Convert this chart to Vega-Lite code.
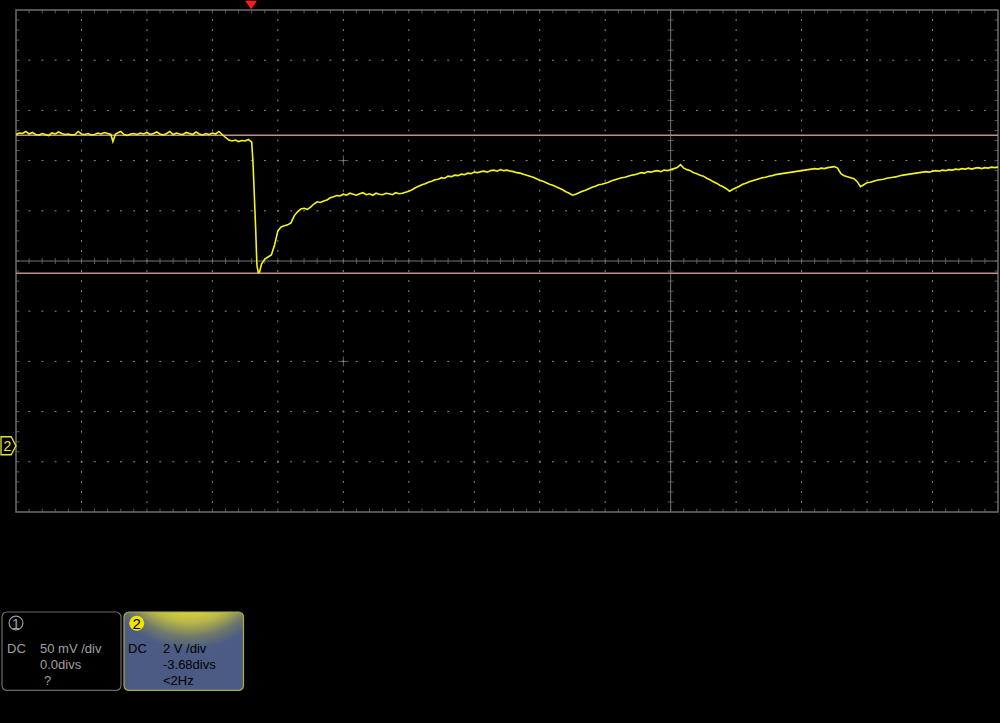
{
  "$schema": "https://vega.github.io/schema/vega-lite/v6.json",
  "width": 982,
  "height": 502,
  "autosize": {"type": "none"},
  "padding": {"left": 16, "top": 10, "right": 2, "bottom": 211},
  "background": "#000000",
  "config": {"view": {"stroke": null}},
  "datasets": {
    "trace": [
      {"t":0,"v":12.40},{"t":0.05,"v":12.46},{"t":0.1,"v":12.44},{"t":0.15,"v":12.52},{"t":0.2,"v":12.42},{"t":0.25,"v":12.48},{"t":0.3,"v":12.40},{"t":0.35,"v":12.38},{"t":0.4,"v":12.44},{"t":0.45,"v":12.40},{"t":0.5,"v":12.36},{"t":0.55,"v":12.46},{"t":0.6,"v":12.42},{"t":0.65,"v":12.50},{"t":0.7,"v":12.44},{"t":0.75,"v":12.40},{"t":0.8,"v":12.42},{"t":0.85,"v":12.38},{"t":0.9,"v":12.40},{"t":0.95,"v":12.52},{"t":1,"v":12.42},{"t":1.05,"v":12.40},{"t":1.1,"v":12.44},{"t":1.15,"v":12.38},{"t":1.2,"v":12.40},{"t":1.25,"v":12.46},{"t":1.3,"v":12.42},{"t":1.35,"v":12.48},{"t":1.4,"v":12.44},{"t":1.45,"v":12.40},{"t":1.48,"v":12.12},{"t":1.52,"v":12.42},{"t":1.55,"v":12.46},{"t":1.6,"v":12.52},{"t":1.65,"v":12.40},{"t":1.7,"v":12.36},{"t":1.75,"v":12.42},{"t":1.8,"v":12.44},{"t":1.85,"v":12.40},{"t":1.9,"v":12.46},{"t":1.95,"v":12.42},{"t":2,"v":12.48},{"t":2.05,"v":12.40},{"t":2.1,"v":12.44},{"t":2.15,"v":12.50},{"t":2.2,"v":12.42},{"t":2.25,"v":12.38},{"t":2.3,"v":12.44},{"t":2.35,"v":12.52},{"t":2.4,"v":12.40},{"t":2.45,"v":12.46},{"t":2.5,"v":12.42},{"t":2.55,"v":12.40},{"t":2.6,"v":12.48},{"t":2.65,"v":12.44},{"t":2.7,"v":12.40},{"t":2.75,"v":12.50},{"t":2.8,"v":12.42},{"t":2.85,"v":12.38},{"t":2.9,"v":12.44},{"t":2.95,"v":12.40},{"t":3,"v":12.46},{"t":3.05,"v":12.42},{"t":3.1,"v":12.52},{"t":3.15,"v":12.40},{"t":3.2,"v":12.28},{"t":3.25,"v":12.18},{"t":3.3,"v":12.14},{"t":3.35,"v":12.18},{"t":3.4,"v":12.12},{"t":3.45,"v":12.16},{"t":3.5,"v":12.14},{"t":3.55,"v":12.20},{"t":3.58,"v":12.14},{"t":3.6,"v":12.10},{"t":3.62,"v":11.3},{"t":3.64,"v":10.0},{"t":3.66,"v":8.7},{"t":3.68,"v":7.2},{"t":3.7,"v":6.9},{"t":3.72,"v":6.92},
      {"t":3.75,"v":7.24},{"t":3.8,"v":7.44},{"t":3.85,"v":7.52},{"t":3.9,"v":7.60},{"t":3.95,"v":8.00},{"t":4,"v":8.56},{"t":4.05,"v":8.72},{"t":4.1,"v":8.76},{"t":4.15,"v":8.80},{"t":4.2,"v":8.88},{"t":4.25,"v":9.16},{"t":4.3,"v":9.32},{"t":4.35,"v":9.43},{"t":4.4,"v":9.46},{"t":4.45,"v":9.42},{"t":4.5,"v":9.51},{"t":4.55,"v":9.63},{"t":4.6,"v":9.72},{"t":4.65,"v":9.69},{"t":4.7,"v":9.75},{"t":4.75,"v":9.79},{"t":4.8,"v":9.88},{"t":4.85,"v":9.92},{"t":4.9,"v":9.97},{"t":4.95,"v":9.95},{"t":5,"v":10.02},
      {"t":5.05,"v":9.98},{"t":5.1,"v":10.06},{"t":5.15,"v":10.02},{"t":5.2,"v":9.98},{"t":5.25,"v":10.04},{"t":5.3,"v":10.08},{"t":5.35,"v":10.00},{"t":5.4,"v":10.04},{"t":5.45,"v":9.98},{"t":5.5,"v":10.06},{"t":5.55,"v":10.02},{"t":5.6,"v":10.00},{"t":5.65,"v":10.06},{"t":5.7,"v":10.04},{"t":5.75,"v":10.00},{"t":5.8,"v":10.08},{"t":5.85,"v":10.04},{"t":5.9,"v":10.06},{"t":5.95,"v":10.10},{"t":6,"v":10.14},
      {"t":6.05,"v":10.20},{"t":6.1,"v":10.28},{"t":6.15,"v":10.34},{"t":6.2,"v":10.40},{"t":6.25,"v":10.44},{"t":6.3,"v":10.50},{"t":6.35,"v":10.54},{"t":6.4,"v":10.60},{"t":6.45,"v":10.62},{"t":6.5,"v":10.68},{"t":6.55,"v":10.66},{"t":6.6,"v":10.74},{"t":6.65,"v":10.72},{"t":6.7,"v":10.78},{"t":6.75,"v":10.76},{"t":6.8,"v":10.82},{"t":6.85,"v":10.80},{"t":6.9,"v":10.86},{"t":6.95,"v":10.84},{"t":7,"v":10.90},{"t":7.05,"v":10.88},{"t":7.1,"v":10.92},{"t":7.15,"v":10.94},{"t":7.2,"v":10.90},{"t":7.25,"v":10.96},{"t":7.3,"v":10.98},{"t":7.35,"v":10.94},{"t":7.4,"v":11.00},{"t":7.45,"v":10.96},{"t":7.5,"v":10.98},{"t":7.55,"v":10.94},{"t":7.6,"v":10.92},{"t":7.65,"v":10.88},{"t":7.7,"v":10.86},{"t":7.75,"v":10.82},{"t":7.8,"v":10.78},{"t":7.85,"v":10.74},{"t":7.9,"v":10.70},{"t":7.95,"v":10.64},{"t":8,"v":10.58},{"t":8.05,"v":10.54},{"t":8.1,"v":10.48},{"t":8.15,"v":10.42},{"t":8.2,"v":10.38},{"t":8.25,"v":10.32},{"t":8.3,"v":10.26},{"t":8.35,"v":10.20},{"t":8.4,"v":10.12},{"t":8.45,"v":10.06},{"t":8.5,"v":9.98},{"t":8.55,"v":10.02},{"t":8.6,"v":10.08},{"t":8.65,"v":10.14},{"t":8.7,"v":10.18},{"t":8.75,"v":10.24},{"t":8.8,"v":10.30},{"t":8.85,"v":10.34},{"t":8.9,"v":10.40},{"t":8.95,"v":10.42},{"t":9,"v":10.46},{"t":9.05,"v":10.50},{"t":9.1,"v":10.56},{"t":9.15,"v":10.60},{"t":9.2,"v":10.64},{"t":9.25,"v":10.68},{"t":9.3,"v":10.70},{"t":9.35,"v":10.74},{"t":9.4,"v":10.78},{"t":9.45,"v":10.80},{"t":9.5,"v":10.84},{"t":9.55,"v":10.88},{"t":9.6,"v":10.86},{"t":9.65,"v":10.92},{"t":9.7,"v":10.90},{"t":9.75,"v":10.94},{"t":9.8,"v":10.96},{"t":9.85,"v":10.92},{"t":9.9,"v":10.98},{"t":9.95,"v":10.96},{"t":10,"v":11.00},{"t":10.05,"v":11.04},{"t":10.1,"v":11.08},{"t":10.15,"v":11.20},{"t":10.2,"v":11.06},{"t":10.25,"v":11.00},{"t":10.3,"v":10.96},{"t":10.35,"v":10.88},{"t":10.4,"v":10.84},{"t":10.45,"v":10.78},{"t":10.5,"v":10.74},{"t":10.55,"v":10.66},{"t":10.6,"v":10.60},{"t":10.65,"v":10.52},{"t":10.7,"v":10.46},{"t":10.75,"v":10.38},{"t":10.8,"v":10.32},{"t":10.85,"v":10.24},{"t":10.9,"v":10.14},{"t":10.95,"v":10.22},{"t":11,"v":10.28},{"t":11.05,"v":10.34},{"t":11.1,"v":10.42},{"t":11.15,"v":10.46},{"t":11.2,"v":10.52},{"t":11.25,"v":10.56},{"t":11.3,"v":10.60},{"t":11.35,"v":10.64},{"t":11.4,"v":10.68},{"t":11.45,"v":10.70},{"t":11.5,"v":10.74},{"t":11.55,"v":10.76},{"t":11.6,"v":10.80},{"t":11.65,"v":10.82},{"t":11.7,"v":10.84},{"t":11.75,"v":10.86},{"t":11.8,"v":10.88},{"t":11.85,"v":10.90},{"t":11.9,"v":10.92},{"t":11.95,"v":10.94},{"t":12,"v":10.96},{"t":12.05,"v":10.98},{"t":12.1,"v":11.00},{"t":12.15,"v":11.02},{"t":12.2,"v":11.04},{"t":12.25,"v":11.02},{"t":12.3,"v":11.06},{"t":12.35,"v":11.04},{"t":12.4,"v":11.08},{"t":12.45,"v":11.10},{"t":12.5,"v":11.12},{"t":12.55,"v":11.06},{"t":12.6,"v":10.84},{"t":12.65,"v":10.76},{"t":12.7,"v":10.72},{"t":12.75,"v":10.68},{"t":12.8,"v":10.64},{"t":12.85,"v":10.52},{"t":12.9,"v":10.32},{"t":12.95,"v":10.40},{"t":13,"v":10.48},{"t":13.05,"v":10.50},{"t":13.1,"v":10.54},{"t":13.15,"v":10.58},{"t":13.2,"v":10.60},{"t":13.25,"v":10.62},{"t":13.3,"v":10.66},{"t":13.35,"v":10.68},{"t":13.4,"v":10.70},{"t":13.45,"v":10.72},{"t":13.5,"v":10.76},{"t":13.55,"v":10.78},{"t":13.6,"v":10.80},{"t":13.65,"v":10.82},{"t":13.7,"v":10.84},{"t":13.75,"v":10.86},{"t":13.8,"v":10.88},{"t":13.85,"v":10.90},{"t":13.9,"v":10.92},{"t":13.95,"v":10.90},{"t":14,"v":10.94},{"t":14.05,"v":10.96},{"t":14.1,"v":10.94},{"t":14.15,"v":10.98},{"t":14.2,"v":10.96},{"t":14.25,"v":11.00},{"t":14.3,"v":10.98},{"t":14.35,"v":11.02},{"t":14.4,"v":11.00},{"t":14.45,"v":11.04},{"t":14.5,"v":11.02},{"t":14.55,"v":11.06},{"t":14.6,"v":11.02},{"t":14.65,"v":11.06},{"t":14.7,"v":11.08},{"t":14.75,"v":11.04},{"t":14.8,"v":11.08},{"t":14.85,"v":11.06},{"t":14.9,"v":11.10},{"t":14.95,"v":11.08},{"t":15,"v":11.10}
    ],
    "gridX": [{"t":1},{"t":2},{"t":3},{"t":4},{"t":5},{"t":6},{"t":7},{"t":8},{"t":9},{"t":11},{"t":12},{"t":13},{"t":14}],
    "gridY": [{"v":-0.64},{"v":1.36},{"v":3.36},{"v":5.36},{"v":9.36},{"v":11.36},{"v":13.36},{"v":15.36}],
    "minorT": [{"t":0.2},{"t":0.4},{"t":0.6},{"t":0.8},{"t":1},{"t":1.2},{"t":1.4},{"t":1.6},{"t":1.8},{"t":2},{"t":2.2},{"t":2.4},{"t":2.6},{"t":2.8},{"t":3},{"t":3.2},{"t":3.4},{"t":3.6},{"t":3.8},{"t":4},{"t":4.2},{"t":4.4},{"t":4.6},{"t":4.8},{"t":5},{"t":5.2},{"t":5.4},{"t":5.6},{"t":5.8},{"t":6},{"t":6.2},{"t":6.4},{"t":6.6},{"t":6.8},{"t":7},{"t":7.2},{"t":7.4},{"t":7.6},{"t":7.8},{"t":8},{"t":8.2},{"t":8.4},{"t":8.6},{"t":8.8},{"t":9},{"t":9.2},{"t":9.4},{"t":9.6},{"t":9.8},{"t":10},{"t":10.2},{"t":10.4},{"t":10.6},{"t":10.8},{"t":11},{"t":11.2},{"t":11.4},{"t":11.6},{"t":11.8},{"t":12},{"t":12.2},{"t":12.4},{"t":12.6},{"t":12.8},{"t":13},{"t":13.2},{"t":13.4},{"t":13.6},{"t":13.8},{"t":14},{"t":14.2},{"t":14.4},{"t":14.6},{"t":14.8}],
    "minorV": [{"v":-2.24},{"v":-1.84},{"v":-1.44},{"v":-1.04},{"v":-0.64},{"v":-0.24},{"v":0.16},{"v":0.56},{"v":0.96},{"v":1.36},{"v":1.76},{"v":2.16},{"v":2.56},{"v":2.96},{"v":3.36},{"v":3.76},{"v":4.16},{"v":4.56},{"v":4.96},{"v":5.36},{"v":5.76},{"v":6.16},{"v":6.56},{"v":6.96},{"v":7.36},{"v":7.76},{"v":8.16},{"v":8.56},{"v":8.96},{"v":9.36},{"v":9.76},{"v":10.16},{"v":10.56},{"v":10.96},{"v":11.36},{"v":11.76},{"v":12.16},{"v":12.56},{"v":12.96},{"v":13.36},{"v":13.76},{"v":14.16},{"v":14.56},{"v":14.96},{"v":15.36},{"v":15.76},{"v":16.16},{"v":16.56},{"v":16.96}],
    "crosses": [{"t":5,"v":11.36},{"t":5,"v":3.36}],
    "cursors": [{"v":12.37},{"v":6.87}],
    "trigger": [{"t":3.59,"v":17.56}],
    "ground": [{"t":-0.115,"v":0,"label":"2"}],
    "boxes": [{"ch":"1","t":-0.214,"t2":1.604,"v":-6.624,"v2":-9.75},{"ch":"2","t":1.65,"t2":3.475,"v":-6.624,"v2":-9.75}],
    "badges": [{"ch":"1","t":0,"v":-7.062,"label":"1"},{"ch":"2","t":1.844,"v":-7.07,"label":"2"}],
    "info": [
      {"ch":"1","t":-0.137,"v":-8.258,"label":"DC"},
      {"ch":"1","t":0.367,"v":-8.258,"label":"50 mV /div"},
      {"ch":"1","t":0.367,"v":-8.895,"label":"0.0divs"},
      {"ch":"1","t":0.428,"v":-9.532,"label":"?"},
      {"ch":"2","t":1.711,"v":-8.258,"label":"DC"},
      {"ch":"2","t":2.245,"v":-8.258,"label":"2 V /div"},
      {"ch":"2","t":2.245,"v":-8.895,"label":"-3.68divs"},
      {"ch":"2","t":2.245,"v":-9.532,"label":"<2Hz"}
    ]
  },
  "layer": [
    {
      "data": {"name": "gridX"},
      "mark": {"type": "rule", "color": "#8a8a8a", "strokeWidth": 1, "strokeDash": [2, 8.04], "strokeDashOffset": 1},
      "encoding": {
        "x": {"field": "t", "type": "quantitative", "scale": {"domain": [0, 15], "nice": false, "zero": false}, "axis": null}
      }
    },
    {
      "data": {"name": "gridY"},
      "mark": {"type": "rule", "color": "#8a8a8a", "strokeWidth": 1, "strokeDash": [2, 11.09], "strokeDashOffset": 1},
      "encoding": {
        "y": {"field": "v", "type": "quantitative", "scale": {"domain": [-2.64, 17.36], "nice": false, "zero": false}, "axis": null}
      }
    },
    {
      "data": {"values": [{"k": 1}]},
      "mark": {"type": "rule", "color": "#747474", "strokeWidth": 1},
      "encoding": {"x": {"datum": 10, "type": "quantitative", "axis": null}}
    },
    {
      "data": {"values": [{"k": 1}]},
      "mark": {"type": "rule", "color": "#747474", "strokeWidth": 1},
      "encoding": {"y": {"datum": 7.36, "type": "quantitative", "axis": null}}
    },
    {
      "data": {"values": [{"k": 1}]},
      "mark": {"type": "rect", "fillOpacity": 0, "stroke": "#6e6e6e", "strokeWidth": 1.5},
      "encoding": {
        "x": {"datum": 0, "type": "quantitative", "axis": null}, "x2": {"datum": 15},
        "y": {"datum": -2.64, "type": "quantitative", "axis": null}, "y2": {"datum": 17.36}
      }
    },
    {
      "data": {"name": "minorT"},
      "mark": {"type": "tick", "orient": "vertical", "size": 7, "thickness": 1, "color": "#7a7a7a", "clip": true},
      "encoding": {"x": {"field": "t", "type": "quantitative", "axis": null}, "y": {"datum": -2.64, "type": "quantitative", "axis": null}}
    },
    {
      "data": {"name": "minorT"},
      "mark": {"type": "tick", "orient": "vertical", "size": 7, "thickness": 1, "color": "#7a7a7a", "clip": true},
      "encoding": {"x": {"field": "t", "type": "quantitative", "axis": null}, "y": {"datum": 17.36, "type": "quantitative", "axis": null}}
    },
    {
      "data": {"name": "minorT"},
      "mark": {"type": "tick", "orient": "vertical", "size": 6, "thickness": 1, "color": "#7a7a7a"},
      "encoding": {"x": {"field": "t", "type": "quantitative", "axis": null}, "y": {"datum": 7.36, "type": "quantitative", "axis": null}}
    },
    {
      "data": {"name": "minorV"},
      "mark": {"type": "tick", "orient": "horizontal", "size": 7, "thickness": 1, "color": "#7a7a7a", "clip": true},
      "encoding": {"y": {"field": "v", "type": "quantitative", "axis": null}, "x": {"datum": 0, "type": "quantitative", "axis": null}}
    },
    {
      "data": {"name": "minorV"},
      "mark": {"type": "tick", "orient": "horizontal", "size": 7, "thickness": 1, "color": "#7a7a7a", "clip": true},
      "encoding": {"y": {"field": "v", "type": "quantitative", "axis": null}, "x": {"datum": 15, "type": "quantitative", "axis": null}}
    },
    {
      "data": {"name": "minorV"},
      "mark": {"type": "tick", "orient": "horizontal", "size": 6, "thickness": 1, "color": "#7a7a7a"},
      "encoding": {"y": {"field": "v", "type": "quantitative", "axis": null}, "x": {"datum": 10, "type": "quantitative", "axis": null}}
    },
    {
      "data": {"name": "crosses"},
      "mark": {"type": "tick", "orient": "vertical", "size": 10, "thickness": 1, "color": "#8a8a8a"},
      "encoding": {"x": {"field": "t", "type": "quantitative", "axis": null}, "y": {"field": "v", "type": "quantitative", "axis": null}}
    },
    {
      "data": {"name": "crosses"},
      "mark": {"type": "tick", "orient": "horizontal", "size": 10, "thickness": 1, "color": "#8a8a8a"},
      "encoding": {"x": {"field": "t", "type": "quantitative", "axis": null}, "y": {"field": "v", "type": "quantitative", "axis": null}}
    },
    {
      "data": {"name": "cursors"},
      "mark": {"type": "rule", "color": "#c08e8e", "strokeWidth": 1.6},
      "encoding": {"y": {"field": "v", "type": "quantitative", "axis": null}}
    },
    {
      "data": {"name": "trace"},
      "mark": {"type": "line", "color": "#f4f41c", "strokeWidth": 1.6, "clip": true},
      "encoding": {
        "x": {"field": "t", "type": "quantitative", "scale": {"domain": [0, 15], "nice": false, "zero": false}, "axis": null},
        "y": {"field": "v", "type": "quantitative", "scale": {"domain": [-2.64, 17.36], "nice": false, "zero": false}, "axis": null}
      }
    },
    {
      "data": {"name": "trigger"},
      "mark": {"type": "point", "shape": "M-1,-0.72 L1,-0.72 L0,0.72 Z", "size": 144, "filled": true, "color": "#ff1a1a", "opacity": 1},
      "encoding": {"x": {"field": "t", "type": "quantitative", "axis": null}, "y": {"field": "v", "type": "quantitative", "axis": null}}
    },
    {
      "data": {"name": "ground"},
      "mark": {"type": "point", "shape": "M-0.83,-1 L0.3,-1 L0.83,0 L0.3,1 L-0.83,1 Z", "size": 324, "filled": false, "stroke": "#e6e62e", "strokeWidth": 1.3, "fill": "#000000", "opacity": 1},
      "encoding": {"x": {"field": "t", "type": "quantitative", "axis": null}, "y": {"field": "v", "type": "quantitative", "axis": null}}
    },
    {
      "data": {"name": "ground"},
      "mark": {"type": "text", "color": "#e6e62e", "font": "Liberation Sans", "fontSize": 14, "align": "center", "baseline": "middle", "dx": -1, "dy": 1},
      "encoding": {"x": {"field": "t", "type": "quantitative", "axis": null}, "y": {"field": "v", "type": "quantitative", "axis": null}, "text": {"field": "label"}}
    },
    {
      "data": {"name": "boxes"},
      "transform": [{"filter": "datum.ch == '1'"}],
      "mark": {"type": "rect", "fill": "#000000", "stroke": "#6c6c6c", "strokeWidth": 1.2, "cornerRadius": 5},
      "encoding": {
        "x": {"field": "t", "type": "quantitative", "axis": null}, "x2": {"field": "t2"},
        "y": {"field": "v", "type": "quantitative", "axis": null}, "y2": {"field": "v2"}
      }
    },
    {
      "data": {"name": "boxes"},
      "transform": [{"filter": "datum.ch == '2'"}],
      "mark": {
        "type": "rect",
        "stroke": "#b0ae3c",
        "strokeWidth": 1.2,
        "cornerRadius": 5,
        "fill": {
          "gradient": "radial",
          "x1": 0.55, "y1": -0.3, "r1": 0,
          "x2": 0.55, "y2": -0.3, "r2": 1.0,
          "stops": [
            {"offset": 0, "color": "#f2ee3a"},
            {"offset": 0.42, "color": "#e6e23a"},
            {"offset": 0.56, "color": "#b8b648"},
            {"offset": 0.68, "color": "#6e786c"},
            {"offset": 0.78, "color": "#4c5c84"},
            {"offset": 1, "color": "#4a5a82"}
          ]
        }
      },
      "encoding": {
        "x": {"field": "t", "type": "quantitative", "axis": null}, "x2": {"field": "t2"},
        "y": {"field": "v", "type": "quantitative", "axis": null}, "y2": {"field": "v2"}
      }
    },
    {
      "data": {"name": "badges"},
      "transform": [{"filter": "datum.ch == '1'"}],
      "mark": {"type": "point", "shape": "circle", "size": 190, "filled": false, "stroke": "#9a9a9a", "strokeWidth": 1.2, "opacity": 1},
      "encoding": {"x": {"field": "t", "type": "quantitative", "axis": null}, "y": {"field": "v", "type": "quantitative", "axis": null}}
    },
    {
      "data": {"name": "badges"},
      "transform": [{"filter": "datum.ch == '2'"}],
      "mark": {"type": "point", "shape": "circle", "size": 225, "filled": true, "color": "#f2e400", "opacity": 1},
      "encoding": {"x": {"field": "t", "type": "quantitative", "axis": null}, "y": {"field": "v", "type": "quantitative", "axis": null}}
    },
    {
      "data": {"name": "badges"},
      "mark": {"type": "text", "font": "Liberation Sans", "fontSize": 15, "align": "center", "baseline": "middle", "dy": 1},
      "encoding": {
        "x": {"field": "t", "type": "quantitative", "axis": null},
        "y": {"field": "v", "type": "quantitative", "axis": null},
        "text": {"field": "label"},
        "color": {"field": "ch", "type": "nominal", "scale": {"domain": ["1", "2"], "range": ["#a0a0a0", "#000000"]}, "legend": null}
      }
    },
    {
      "data": {"name": "info"},
      "mark": {"type": "text", "font": "Liberation Sans", "fontSize": 13, "align": "left", "baseline": "alphabetic"},
      "encoding": {
        "x": {"field": "t", "type": "quantitative", "axis": null},
        "y": {"field": "v", "type": "quantitative", "axis": null},
        "text": {"field": "label"},
        "color": {"field": "ch", "type": "nominal", "scale": {"domain": ["1", "2"], "range": ["#5a5a5a", "#f2f2f2"]}, "legend": null}
      }
    }
  ]
}
